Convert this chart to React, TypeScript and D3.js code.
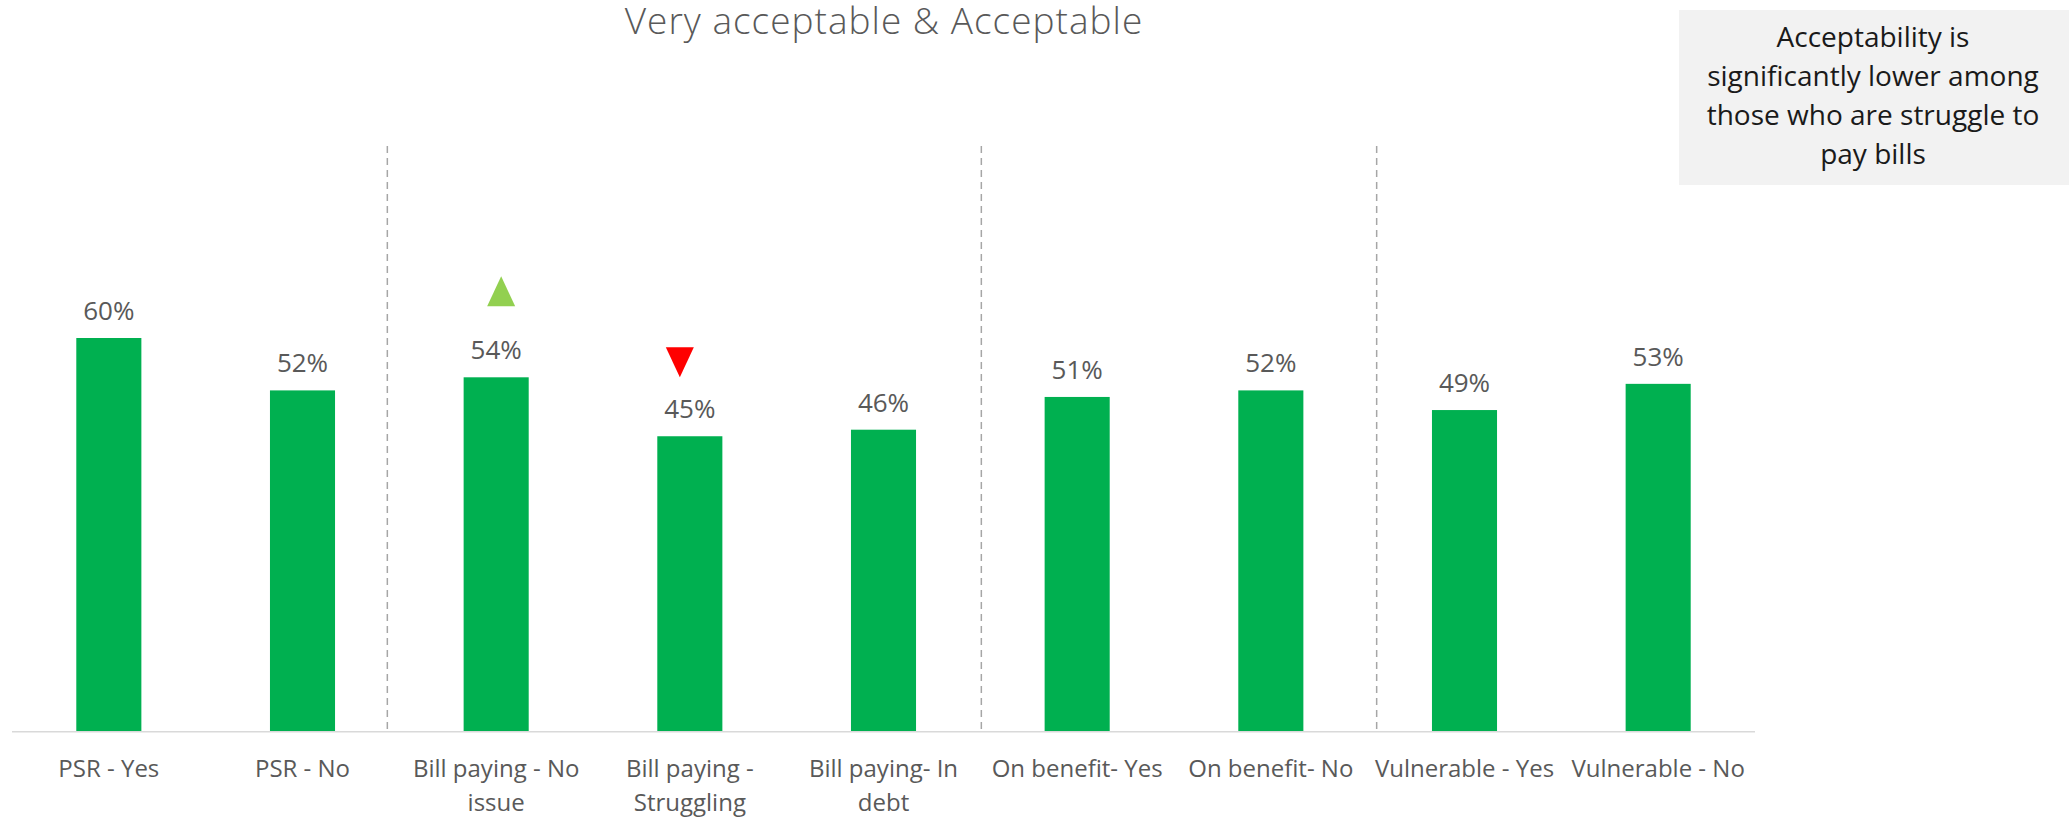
import React from "react";
import * as d3 from "d3";

const categories = [
  "PSR - Yes",
  "PSR - No",
  "Bill paying - No issue",
  "Bill paying - Struggling",
  "Bill paying- In debt",
  "On benefit- Yes",
  "On benefit- No",
  "Vulnerable - Yes",
  "Vulnerable - No",
];
const categoryLines = [
  ["PSR - Yes"],
  ["PSR - No"],
  ["Bill paying - No", "issue"],
  ["Bill paying -", "Struggling"],
  ["Bill paying- In", "debt"],
  ["On benefit- Yes"],
  ["On benefit- No"],
  ["Vulnerable - Yes"],
  ["Vulnerable - No"],
];
const values = [60, 52, 54, 45, 46, 51, 52, 49, 53];
const sigMarkers = [
  { category: "Bill paying - No issue", dir: "up" },
  { category: "Bill paying - Struggling", dir: "down" },
];
// group dividers drawn after these category indices
const dividersAfter = [1, 4, 6];
const title = "Very acceptable & Acceptable";
const noteLines = [
  "Acceptability is",
  "significantly lower among",
  "those who are struggle to",
  "pay bills",
];

const W = 2069;
const H = 819;
const FONT = "'Open Sans', 'Noto Sans', sans-serif";
const markerStyle: Record<string, { dx: number; dy: number; color: string }> = {
  up: { dx: 5, dy: -86, color: "#92D050" },
  down: { dx: -10, dy: -74, color: "#FF0000" },
};
const dividerNudge = [-12, 1, 9];

export default function App() {
  const x = d3
    .scaleBand<string>()
    .domain(categories)
    .range([12, 1755])
    .paddingInner(0.664)
    .paddingOuter(0.332);
  const y = d3.scaleLinear().domain([0, 100]).range([731, 76]);
  const step = x.step();
  const bw = x.bandwidth();
  const cx = (c: string) => (x(c) as number) + bw / 2;
  const tri = 28;
  const triH = 30;

  return (
    <svg
      width={W}
      height={H}
      style={{ position: "absolute", left: 0, top: 0, display: "block", background: "#fff" }}
      fontFamily={FONT}
    >
      <text
        x={884}
        y={34}
        textAnchor="middle"
        fontSize={37}
        fontWeight={300}
        letterSpacing={1}
        fill="#595959"
      >
        {title}
      </text>

      {dividersAfter.map((i, k) => {
        const xx = (x(categories[i]) as number) + bw + (step - bw) / 2 + dividerNudge[k];
        return (
          <line
            key={"d" + i}
            x1={xx}
            x2={xx}
            y1={146}
            y2={y(0)}
            stroke="#a6a6a6"
            strokeWidth={1.5}
            strokeDasharray="7,5"
          />
        );
      })}

      {categories.map((c, i) => (
        <rect
          key={c}
          x={x(c)}
          y={y(values[i])}
          width={bw}
          height={y(0) - y(values[i])}
          fill="#00B050"
        />
      ))}

      <line x1={12} x2={1755} y1={y(0) + 0.75} y2={y(0) + 0.75} stroke="#d9d9d9" strokeWidth={1.5} />

      {categories.map((c, i) => (
        <text
          key={"v" + c}
          x={cx(c)}
          y={y(values[i]) - 18}
          textAnchor="middle"
          fontSize={26}
          fill="#595959"
        >
          {values[i] + "%"}
        </text>
      ))}

      {categories.map((c, i) => (
        <text key={"l" + c} x={cx(c)} y={777} textAnchor="middle" fontSize={24} fill="#595959">
          {categoryLines[i].map((ln, j) => (
            <tspan key={j} x={cx(c)} dy={j === 0 ? 0 : 34}>
              {ln}
            </tspan>
          ))}
        </text>
      ))}

      {sigMarkers.map((m) => {
        const i = categories.indexOf(m.category);
        const st = markerStyle[m.dir];
        const mx = cx(m.category) + st.dx;
        const my = y(values[i]) + st.dy;
        const pts =
          m.dir === "up"
            ? [
                [mx, my - triH / 2],
                [mx + tri / 2, my + triH / 2],
                [mx - tri / 2, my + triH / 2],
              ]
            : [
                [mx - tri / 2, my - triH / 2],
                [mx + tri / 2, my - triH / 2],
                [mx, my + triH / 2],
              ];
        return <polygon key={m.category} points={pts.map((p) => p.join(",")).join(" ")} fill={st.color} />;
      })}

      <rect x={1679} y={10} width={W - 1679} height={175} fill="#f2f2f2" />
      {noteLines.map((ln, j) => (
        <text key={j} x={1873} y={47 + j * 39} textAnchor="middle" fontSize={28} fill="#1a1a1a">
          {ln}
        </text>
      ))}
    </svg>
  );
}
